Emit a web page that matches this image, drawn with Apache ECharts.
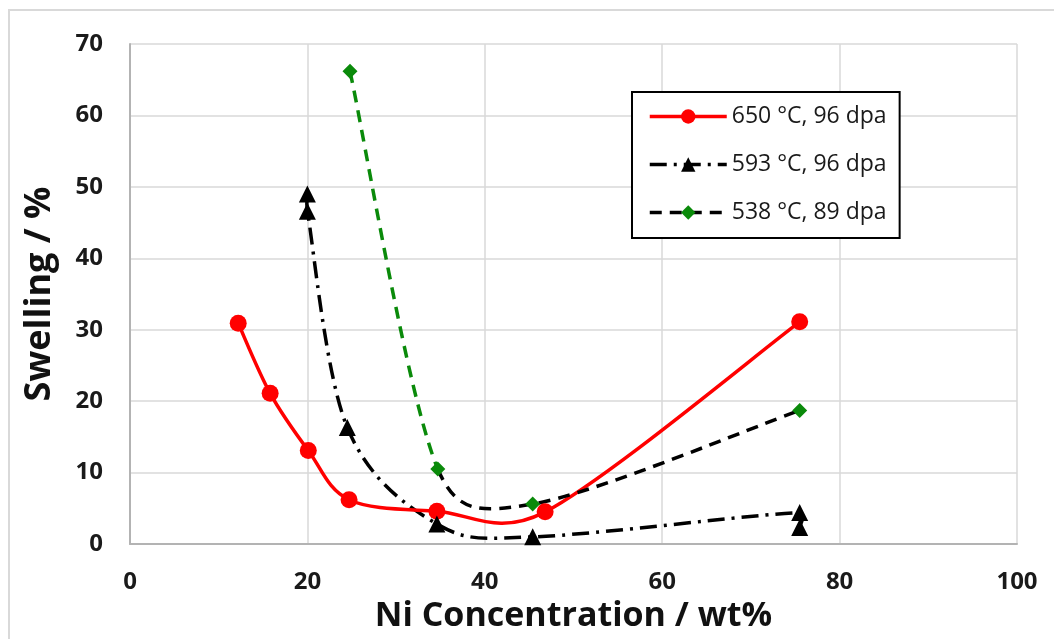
<!DOCTYPE html>
<html>
<head>
<meta charset="utf-8">
<title>Swelling vs Ni Concentration</title>
<script src="https://cdn.jsdelivr.net/npm/echarts@6/dist/echarts.min.js"></script>
<style>
  html, body { margin: 0; padding: 0; background: #ffffff; }
  #chart { width: 1054px; height: 639px; }
</style>
</head>
<body>
<div id="chart"></div>
<script>
// Swelling (%) against Ni concentration (wt%) for three irradiation conditions
const seriesNames = ['650 °C, 96 dpa', '593 °C, 96 dpa', '538 °C, 89 dpa'];

const ni650 = [12.2, 15.8, 20.1, 24.7, 34.6, 46.8, 75.5];
const sw650 = [30.9, 21.1, 13.1, 6.2, 4.6, 4.5, 31.1];

const ni593 = [20.0, 20.0, 24.5, 34.6, 45.4, 75.5, 75.5];
const sw593 = [49.0, 46.6, 16.3, 2.8, 1.0, 4.4, 2.3];

const ni538 = [24.8, 34.7, 45.4, 75.5];
const sw538 = [66.2, 10.5, 5.6, 18.7];

// the 538 °C curve is drawn green over its first segment, black dashes after it
const greenSegments = 1;

const xTicks = { min: 0, max: 100, interval: 20 };
const yTicks = { min: 0, max: 70, interval: 10 };

const pairs = (xs, ys) => xs.map((x, i) => [x, ys[i]]);

const FONT = '"Open Sans", "Liberation Sans", sans-serif';
const RED = '#ff0000';
const BLACK = '#000000';
const GREEN = '#0a8a0a';
const LW = 3.5;
const DASH_DOT = [17, 7, 3, 7];
const DASH = [12, 8];

// Cardinal bezier (tension 1/6) through pixel points, with each handle kept
// no longer than half of its own segment so short segments do not loop.
function smoothPath(pts, from, to) {
  const n = pts.length;
  const P = (i) => pts[Math.max(0, Math.min(n - 1, i))];
  const handle = (a, b, segLen) => {
    let hx = (b[0] - a[0]) / 6, hy = (b[1] - a[1]) / 6;
    const len = Math.hypot(hx, hy), cap = segLen * 0.5;
    if (len > cap && len > 0) { hx *= cap / len; hy *= cap / len; }
    return [hx, hy];
  };
  let d = 'M' + pts[from][0] + ' ' + pts[from][1];
  for (let i = from; i < to; i++) {
    const p0 = P(i - 1), p1 = P(i), p2 = P(i + 1), p3 = P(i + 2);
    const seg = Math.hypot(p2[0] - p1[0], p2[1] - p1[1]);
    const h1 = handle(p0, p2, seg), h2 = handle(p1, p3, seg);
    d += ' C' + (p1[0] + h1[0]) + ' ' + (p1[1] + h1[1]) + ' ' +
         (p2[0] - h2[0]) + ' ' + (p2[1] - h2[1]) + ' ' + p2[0] + ' ' + p2[1];
  }
  return d;
}

// custom series that strokes one smoothed curve through the data via the axes
function curveSeries(xs, ys, strokes) {
  return {
    type: 'custom',
    data: pairs(xs, ys),
    encode: { x: 0, y: 1 },
    silent: true,
    z: 1,
    renderItem: function (params, api) {
      if (params.dataIndex !== 0) return null;
      const pts = xs.map((x, i) => api.coord([x, ys[i]]));
      return {
        type: 'group',
        children: strokes.map(s => ({
          type: 'path',
          shape: { pathData: smoothPath(pts, s.from, s.to ?? pts.length - 1) },
          style: { fill: null, stroke: s.color, lineWidth: LW, lineDash: s.dash || null, lineCap: 'butt', lineJoin: 'round' }
        }))
      };
    }
  };
}

// marker series carrying the legend entry; its own straight line is hidden
function markerSeries(name, xs, ys, symbol, size, color, lineColor, dash, z) {
  return {
    name: name,
    type: 'line',
    data: pairs(xs, ys),
    symbol: symbol,
    symbolSize: size,
    itemStyle: { color: color },
    lineStyle: { color: lineColor, width: LW, type: dash || 'solid', opacity: 0 },
    z: z
  };
}

const chart = echarts.init(document.getElementById('chart'), null, { renderer: 'canvas' });

chart.setOption({
  backgroundColor: '#ffffff',
  animation: false,
  graphic: [{
    type: 'rect',
    shape: { x: 9, y: 10, width: 1080, height: 660 },
    style: { fill: 'none', stroke: '#d9d9d9', lineWidth: 2 },
    silent: true,
    z: -10
  }],
  grid: { left: 130, right: 37, top: 44, bottom: 95, containLabel: false },
  xAxis: {
    type: 'value',
    min: xTicks.min, max: xTicks.max, interval: xTicks.interval,
    name: 'Ni Concentration / wt%',
    nameLocation: 'middle',
    nameGap: 55,
    nameTextStyle: { fontFamily: FONT, fontWeight: 'bold', fontSize: 34, color: '#111' },
    axisLine: { show: true, lineStyle: { color: '#b3b3b3', width: 2 } },
    axisTick: { show: false },
    axisLabel: { fontFamily: FONT, fontWeight: 'bold', fontSize: 24, color: '#1a1a1a', margin: 26 },
    splitLine: { show: true, lineStyle: { color: '#d9d9d9', width: 1.5 } }
  },
  yAxis: {
    type: 'value',
    min: yTicks.min, max: yTicks.max, interval: yTicks.interval,
    name: 'Swelling / %',
    nameLocation: 'middle',
    nameGap: 72,
    nameTextStyle: { fontFamily: FONT, fontWeight: 'bold', fontSize: 36, color: '#111' },
    axisLine: { show: true, lineStyle: { color: '#b3b3b3', width: 2 } },
    axisTick: { show: false },
    axisLabel: { fontFamily: FONT, fontWeight: 'bold', fontSize: 24, color: '#1a1a1a', margin: 27 },
    splitLine: { show: true, lineStyle: { color: '#d9d9d9', width: 1.5 } }
  },
  legend: {
    data: [
      { name: seriesNames[0], lineStyle: { color: RED, width: LW, type: 'solid', opacity: 1 } },
      { name: seriesNames[1], lineStyle: { color: BLACK, width: LW, type: DASH_DOT, opacity: 1 } },
      { name: seriesNames[2], lineStyle: { color: BLACK, width: LW, type: DASH, opacity: 1 } }
    ],
    orient: 'vertical',
    left: 632,
    top: 92,
    padding: [13, 13, 14, 16],
    itemWidth: 77,
    itemHeight: 18,
    itemGap: 25,
    backgroundColor: '#ffffff',
    borderColor: '#000000',
    borderWidth: 2,
    textStyle: { fontFamily: FONT, fontSize: 23, color: '#1a1a1a' }
  },
  series: [
    curveSeries(ni593, sw593, [{ from: 0, color: BLACK, dash: DASH_DOT }]),
    curveSeries(ni650, sw650, [{ from: 0, color: RED }]),
    curveSeries(ni538, sw538, [
      { from: 0, to: greenSegments, color: GREEN, dash: DASH },
      { from: greenSegments, color: BLACK, dash: DASH }
    ]),
    markerSeries(seriesNames[0], ni650, sw650, 'circle', 17, RED, RED, null, 3),
    markerSeries(seriesNames[1], ni593, sw593, 'triangle', 17, BLACK, BLACK, DASH_DOT, 4),
    markerSeries(seriesNames[2], ni538, sw538, 'diamond', 15, GREEN, BLACK, DASH, 5)
  ]
});
</script>
</body>
</html>
